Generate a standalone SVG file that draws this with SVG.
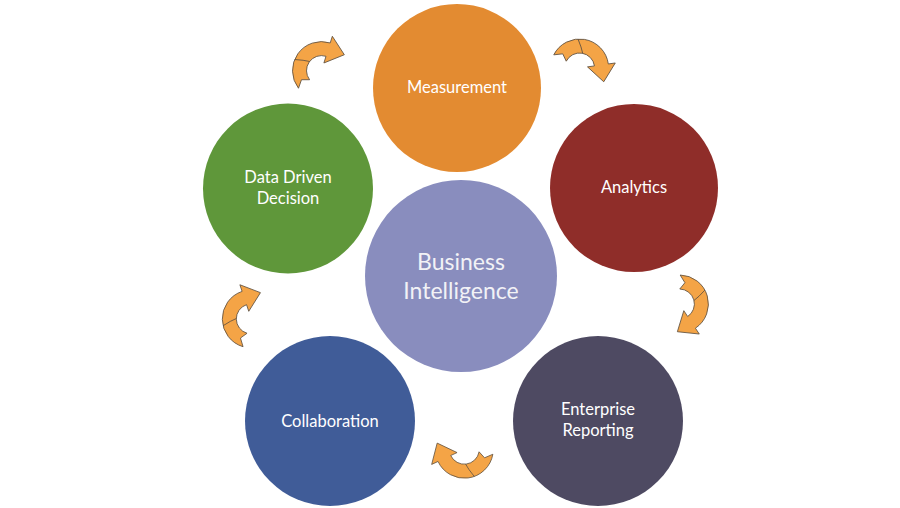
<svg xmlns="http://www.w3.org/2000/svg" xmlns:xlink="http://www.w3.org/1999/xlink" width="900" height="508" viewBox="0 0 900 508">
<style>
.lbl{font-family:Lato,"Open Sans","Liberation Sans",sans-serif;font-size:16.5px;fill:#ffffff;text-anchor:middle}
.big{font-family:Lato,"Open Sans","Liberation Sans",sans-serif;font-size:23px;fill:#f2f2f6;text-anchor:middle}
.arw{fill:#F4A446;stroke:#5e5040;stroke-width:0.8;stroke-linejoin:round}
.fold{fill:none;stroke:#5e5040;stroke-width:0.8}
</style>
<defs>
<g id="arrow">
<path class="arw" d="M-28.56,-5.04 A29,29 0 0 1 26.28,-12.26 L32.63,-15.21 L27.12,6.11 L7.25,-3.38 L13.59,-6.34 A15,15 0 0 0 -14.77,-2.60 L-20.25,-8.60 Z"/>
<path class="fold" d="M-10,-27.3 Q-4,-20 -1.3,-14.9"/>
</g>
</defs>
<rect width="900" height="508" fill="#ffffff"/>
<g id="connectors">
<use xlink:href="#arrow" transform="translate(321.5,70.6) rotate(-47.5)"/>
<use xlink:href="#arrow" transform="translate(579.6,68) rotate(17)"/>
<use xlink:href="#arrow" transform="translate(679.4,304) rotate(81.5)"/>
<use xlink:href="#arrow" transform="translate(464.3,449.2) rotate(180)"/>
<use xlink:href="#arrow" transform="translate(251.3,318.9) rotate(-83.5)"/>
</g>
<g id="measurement">
<circle cx="457" cy="88" r="84" fill="#E38B31"/>
<text class="lbl" x="457" y="93">Measurement</text>
</g>
<g id="analytics">
<circle cx="634" cy="188" r="84" fill="#8F2D29"/>
<text class="lbl" x="634" y="193">Analytics</text>
</g>
<g id="enterprise-reporting">
<circle cx="598" cy="421" r="85" fill="#4E4A62"/>
<text class="lbl" x="598" y="415">Enterprise</text>
<text class="lbl" x="598" y="436">Reporting</text>
</g>
<g id="collaboration">
<circle cx="330" cy="421" r="85" fill="#405C98"/>
<text class="lbl" x="330" y="427">Collaboration</text>
</g>
<g id="data-driven-decision">
<circle cx="288" cy="188.5" r="85" fill="#5F973A"/>
<text class="lbl" x="288" y="183">Data Driven</text>
<text class="lbl" x="288" y="204">Decision</text>
</g>
<g id="business-intelligence">
<circle cx="461" cy="276" r="96" fill="#898DBE"/>
<text class="big" x="461" y="270">Business</text>
<text class="big" x="461" y="299">Intelligence</text>
</g>
</svg>
